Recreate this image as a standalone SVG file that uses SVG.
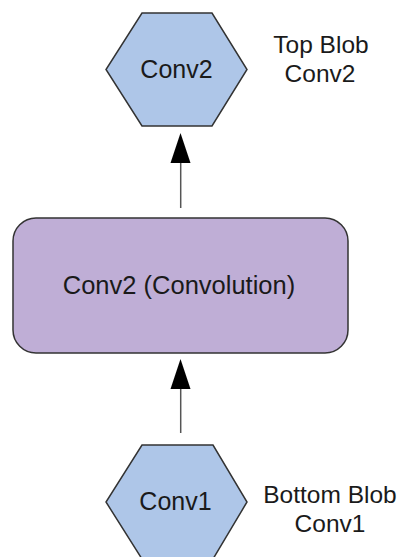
<svg xmlns="http://www.w3.org/2000/svg" width="403" height="557" viewBox="0 0 403 557">
  <defs>
    <style>
      .blob { fill: #aec6e8; stroke: #333333; stroke-width: 1.5; stroke-linejoin: miter; }
      .layer { fill: #bfaed6; stroke: #333333; stroke-width: 1.5; }
      .txt { font-family: "Liberation Sans", Arial, sans-serif; fill: #1a1a1a; text-anchor: middle; }
      .node-txt { font-size: 25px; }
      .label-txt { font-size: 24.5px; }
      .edge { stroke: #555555; stroke-width: 1.5; fill: none; }
      .head { fill: #000000; }
    </style>
  </defs>

  <!-- connectors -->
  <g id="edges">
    <line class="edge" x1="180.7" y1="208" x2="180.7" y2="160"/>
    <polygon class="head" points="180.5,133 190.5,163 170.5,163"/>
    <line class="edge" x1="180.7" y1="433" x2="180.7" y2="385"/>
    <polygon class="head" points="180.5,359 190.5,389 170.5,389"/>
  </g>

  <!-- top blob -->
  <g id="blob-conv2">
    <polygon class="blob" points="142,13 212,13 247,69.5 212,126 142,126 106,69.5"/>
    <text class="txt node-txt" x="176.5" y="77.5">Conv2</text>
  </g>
  <g id="label-top">
    <text class="txt label-txt" x="321" y="53">Top Blob</text>
    <text class="txt label-txt" x="320" y="81.5">Conv2</text>
  </g>

  <!-- convolution layer -->
  <g id="layer-conv2">
    <rect class="layer" x="13" y="218" width="335" height="135" rx="23" ry="23"/>
    <text class="txt node-txt" x="179" y="293.5" style="font-size:25.5px">Conv2 (Convolution)</text>
  </g>

  <!-- bottom blob -->
  <g id="blob-conv1">
    <polygon class="blob" points="142,445 213,445 247,502 213,559 142,559 106,502"/>
    <text class="txt node-txt" x="175.5" y="510">Conv1</text>
  </g>
  <g id="label-bottom">
    <text class="txt label-txt" x="330" y="503">Bottom Blob</text>
    <text class="txt label-txt" x="330" y="531.5">Conv1</text>
  </g>
</svg>
